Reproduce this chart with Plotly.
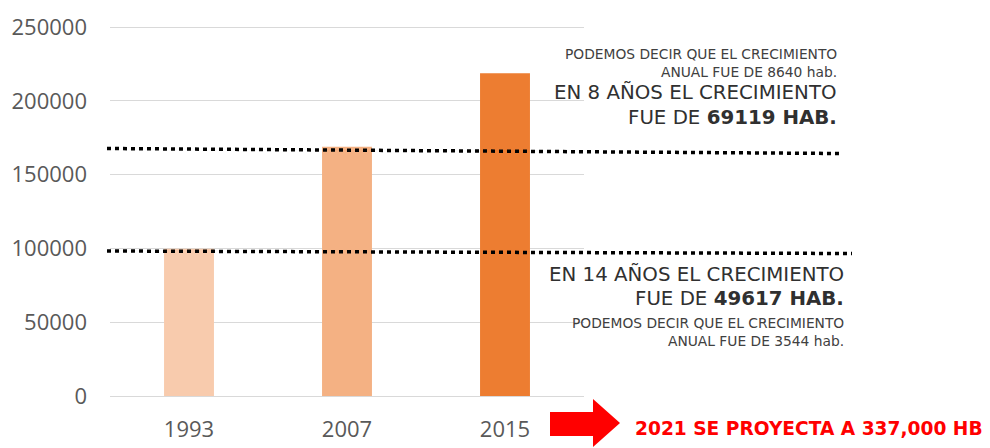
import plotly.graph_objects as go

# ---- data ----
years = ["1993", "2007", "2015"]
population = [99800, 168900, 218600]
bar_colors = ["#F8CBAD", "#F4B183", "#ED7D31"]
y_ticks = [0, 50000, 100000, 150000, 200000, 250000]

top_small = ["PODEMOS DECIR QUE EL CRECIMIENTO", "ANUAL FUE DE 8640 hab."]
top_big = ["EN 8 AÑOS EL CRECIMIENTO", "FUE DE <b>69119 HAB.</b>"]
bot_big = ["EN 14 AÑOS EL CRECIMIENTO", "FUE DE <b>49617 HAB.</b>"]
bot_small = ["PODEMOS DECIR QUE EL CRECIMIENTO", "ANUAL FUE DE 3544 hab."]
projection = "2021 SE PROYECTA A 337,000 HB"

# ---- layout geometry (pixels) ----
W, H = 990, 448
L, R, T, B = 110, 406, 25, 52
PW = W - L - R
PH = H - T - B          # 371 px
Y_TOP = 250000 * PH / 369.0   # so that 250000 sits at pixel 27


def px(x):
    return (x - L) / PW


def py(y):
    return (H - B - y) / PH


fig = go.Figure()
fig.add_bar(x=years, y=population, marker_color=bar_colors, width=0.316,
            marker_line_width=0)

TXT = "DejaVu Sans"
annotations = []


def note(text, xr, yc, size, color="#303030"):
    annotations.append(dict(text=text, x=px(xr), y=py(yc), xref="paper", yref="paper",
                            xanchor="right", yanchor="middle", showarrow=False,
                            font=dict(family=TXT, size=size, color=color)))


note(top_small[0], 839, 54, 13.8, "#404040")
note(top_small[1], 839, 72, 13.8, "#404040")
note(top_big[0], 839, 93, 19.8)
note(top_big[1], 839, 117, 19.8)
note(bot_big[0], 846, 274, 19.8)
note(bot_big[1], 846, 298, 19.8)
note(bot_small[0], 846, 323, 13.8, "#404040")
note(bot_small[1], 846, 341, 13.8, "#404040")

annotations.append(dict(text="<b>" + projection + "</b>", x=px(633), y=py(429),
                        xref="paper", yref="paper", xanchor="left", yanchor="middle",
                        showarrow=False,
                        font=dict(family=TXT, size=18.6, color="#FF0000")))

shapes = []
# dotted reference lines
for (x0, y0, x1, y1) in [(107, 148.5, 840, 153.5), (107, 251, 852, 253.5)]:
    shapes.append(dict(type="line", xref="paper", yref="paper",
                       x0=px(x0), y0=py(y0), x1=px(x1), y1=py(y1),
                       line=dict(color="black", width=3.5, dash="4px,4px")))
# red arrow
pts = [(550, 412), (593, 412), (593, 399), (620, 423), (593, 447), (593, 436), (550, 436)]
path = "M " + " L ".join(f"{px(a):.5f},{py(b):.5f}" for a, b in pts) + " Z"
shapes.append(dict(type="path", xref="paper", yref="paper", path=path,
                   fillcolor="#FF0000", line=dict(width=0)))

fig.update_layout(
    width=W, height=H,
    margin=dict(l=L, r=R, t=T, b=B, autoexpand=False),
    paper_bgcolor="white", plot_bgcolor="white",
    showlegend=False,
    annotations=annotations,
    shapes=shapes,
    font=dict(family="Open Sans", color="#595959"),
)
fig.update_yaxes(range=[0, Y_TOP], tickvals=y_ticks, ticktext=[str(v) for v in y_ticks],
                 showgrid=True, gridcolor="#D9D9D9", gridwidth=1,
                 zeroline=True, zerolinecolor="#D9D9D9", zerolinewidth=1,
                 showline=False, ticks="", ticklabelstandoff=22, automargin=False,
                 tickfont=dict(family="Open Sans", size=22, color="#595959"))
fig.update_xaxes(showgrid=False, showline=False, ticks="", ticklabelstandoff=18,
                 automargin=False,
                 tickfont=dict(family="Open Sans", size=22, color="#595959"))

fig.write_html("out.html", config={"displayModeBar": False},
               post_script="document.body.style.margin='0';document.body.style.overflow='hidden';")
